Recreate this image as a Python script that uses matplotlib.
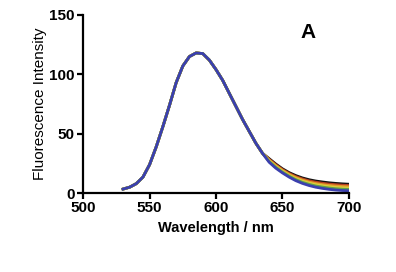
import matplotlib
matplotlib.use("Agg")
import matplotlib.pyplot as plt

plt.rcParams['font.family'] = ['Liberation Sans', 'DejaVu Sans']

wavelength = list(range(530, 705, 5))

# shared part of the spectra (530-635 nm)
head = [3.4, 5, 8, 13.5, 24, 39, 56, 74, 93, 107, 115, 118, 117.5, 112, 104,
        95, 84, 73, 62, 52, 42, 33.5]

# tails (640-700 nm), they split apart here
tail_black = [29, 24.5, 20.5, 17.3, 14.8, 12.8, 11.3, 10.2, 9.4, 8.7, 8.2, 7.8, 7.5]
tail_red = [28.4, 23.8, 19.8, 16.5, 13.9, 11.9, 10.3, 9.2, 8.3, 7.6, 7.1, 6.7, 6.4]
tail_orange = [27.8, 23.1, 19.1, 15.8, 13.1, 11.0, 9.3, 8.1, 7.2, 6.5, 6.0, 5.6, 5.3]
tail_yellow = [27.2, 22.4, 18.4, 15.0, 12.2, 10.0, 8.4, 7.1, 6.2, 5.4, 4.8, 4.4, 4.2]
tail_green = [26.6, 21.7, 17.7, 14.3, 11.4, 9.1, 7.4, 6.0, 5.1, 4.3, 3.7, 3.3, 3.1]
tail_blue = [26, 21, 17, 13.5, 10.5, 8.2, 6.4, 5.0, 4.0, 3.2, 2.6, 2.2, 2.0]

series = [
    (tail_black, '#111111'),
    (tail_red, '#b8401f'),
    (tail_orange, '#e39a2c'),
    (tail_yellow, '#d9cf3c'),
    (tail_green, '#5fa04a'),
    (tail_blue, '#3b3fae'),
]

fig = plt.figure(figsize=(3.96, 2.72), dpi=100)
ax = fig.add_axes([0.21, 0.29, 0.671, 0.655])

for tail, color in series:
    ax.plot(wavelength, head + tail, color=color, lw=2, solid_joinstyle='round')

ax.set_xlim(500, 700)
ax.set_ylim(0, 150)
ax.set_xticks([500, 550, 600, 650, 700])
ax.set_yticks([0, 50, 100, 150])
for s in ['top', 'right']:
    ax.spines[s].set_visible(False)
for s in ['left', 'bottom']:
    ax.spines[s].set_linewidth(1.6)
ax.tick_params(width=1.6, length=4, labelsize=11, pad=2)
for lab in ax.get_xticklabels() + ax.get_yticklabels():
    lab.set_fontweight('bold')

ax.set_xlabel('Wavelength / nm', fontsize=10.5, fontweight='bold', labelpad=4)
ax.set_ylabel('Fluorescence Intensity', fontsize=11, labelpad=2)
ax.text(669, 135, 'A', fontsize=15, fontweight='bold', ha='center', va='center')

fig.savefig('out.png', dpi=100)
